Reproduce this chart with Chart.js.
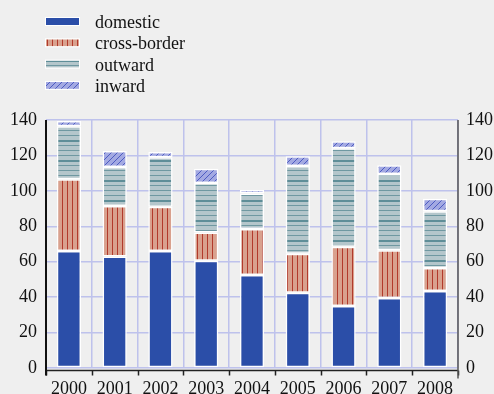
<!DOCTYPE html>
<html>
<head>
<meta charset="utf-8">
<script src="https://cdn.jsdelivr.net/npm/chart.js@4.4.0/dist/chart.umd.min.js"></script>
<style>
  html, body { margin: 0; padding: 0; background: #efefef; }
  canvas { display: block; }
</style>
</head>
<body>
<canvas id="chart" width="494" height="394"></canvas>
<script>
// data
const years = ["2000", "2001", "2002", "2003", "2004", "2005", "2006", "2007", "2008"];
const domestic = [66, 63, 66, 60.5, 52.5, 42.5, 35, 39.5, 43.5];
const crossBorder = [40.5, 28.5, 25, 16, 26, 22, 33.5, 27, 13];
const outward = [30, 22, 28, 28, 20, 49.5, 55.5, 43, 32];
const inward = [3, 9, 3, 8, 2, 5.5, 4, 5, 7];
const seriesNames = ["domestic", "cross-border", "outward", "inward"];
const yMax = 140;
const yStep = 20;

const serif = "'Liberation Serif', 'Times New Roman', serif";
const gridColor = "#bec2ec";
const ctx = document.getElementById("chart").getContext("2d");

// small tiles for the hatched fills
function makePattern(w, h, bg, draw) {
  const c = document.createElement("canvas");
  c.width = w;
  c.height = h;
  const g = c.getContext("2d");
  g.fillStyle = bg;
  g.fillRect(0, 0, w, h);
  draw(g);
  return ctx.createPattern(c, "repeat");
}

const domesticFill = "#2b4ea8";
const crossFill = makePattern(5, 4, "#d9a18e", (g) => {
  g.fillStyle = "#b23a2b";
  g.fillRect(2, 0, 1, 4);
});
const outwardFill = makePattern(4, 20, "#b4c6cb", (g) => {
  g.fillStyle = "#5f8e98";
  g.fillRect(0, 0, 4, 2);
  g.fillStyle = "#6f98a1";
  g.fillRect(0, 5, 4, 1);
  g.fillRect(0, 10, 4, 1);
  g.fillRect(0, 15, 4, 1);
});
const inwardFill = makePattern(6, 6, "#a3a9e2", (g) => {
  g.strokeStyle = "#4d5cc2";
  g.lineWidth = 1;
  g.beginPath();
  g.moveTo(-1, 7); g.lineTo(7, -1);
  g.moveTo(-1, 1); g.lineTo(1, -1);
  g.moveTo(5, 7); g.lineTo(7, 5);
  g.stroke();
});

// axis lines, ticks and the legend are drawn by hand
const frameAndLegend = {
  id: "frameAndLegend",
  afterDraw(chart) {
    const { ctx, chartArea: { left, right, top, bottom } } = chart;
    const xs = chart.scales.x;
    const step = xs.getPixelForValue(1) - xs.getPixelForValue(0);
    const yb = bottom + 2.5;
    ctx.save();

    // bottom axis with ticks at category edges
    ctx.strokeStyle = "#222";
    ctx.lineWidth = 1.5;
    ctx.beginPath();
    ctx.moveTo(left, yb);
    ctx.lineTo(right, yb);
    for (let i = 0; i <= years.length; i++) {
      const x = Math.round(xs.getPixelForValue(i) - step / 2) + 0.5;
      ctx.moveTo(x, yb);
      ctx.lineTo(x, yb + 5);
    }
    ctx.stroke();

    // left axis
    ctx.strokeStyle = "#111";
    ctx.lineWidth = 2;
    ctx.beginPath();
    ctx.moveTo(left, top);
    ctx.lineTo(left, yb + 5);
    ctx.stroke();

    // right axis
    ctx.strokeStyle = "#555";
    ctx.lineWidth = 1.5;
    ctx.beginPath();
    ctx.moveTo(right, top);
    ctx.lineTo(right, yb + 8);
    ctx.stroke();

    // legend
    ctx.font = "18px " + serif;
    ctx.fillStyle = "#111";
    ctx.textAlign = "left";
    ctx.textBaseline = "alphabetic";
    chart.data.datasets.forEach((ds, i) => {
      const cy = 21 + i * 21.3;
      ctx.fillStyle = ds.backgroundColor;
      ctx.fillRect(46, cy - 3, 33, 7);
      ctx.strokeStyle = "#fff";
      ctx.lineWidth = 1;
      ctx.strokeRect(45.5, cy - 3.5, 34, 8);
      ctx.fillStyle = "#111";
      ctx.fillText(ds.label, 95, cy + 7);
    });
    ctx.restore();
  },
};

const fills = [domesticFill, crossFill, outwardFill, inwardFill];
const values = [domestic, crossBorder, outward, inward];

new Chart(ctx, {
  type: "bar",
  data: {
    labels: years,
    datasets: seriesNames.map((name, i) => ({
      label: name,
      data: values[i],
      backgroundColor: fills[i],
      borderColor: "#ffffff",
      borderWidth: 1.5,
      borderSkipped: false,
      categoryPercentage: 1,
      barPercentage: 0.53,
      yAxisID: "y",
    })),
  },
  options: {
    responsive: false,
    animation: false,
    devicePixelRatio: 1,
    layout: { padding: { top: 120, left: 0, right: 0, bottom: 0 } },
    plugins: {
      legend: { display: false },
      tooltip: { enabled: false },
    },
    scales: {
      x: {
        stacked: true,
        grid: { offset: true, color: gridColor, lineWidth: 1.5, drawTicks: false },
        border: { display: false },
        ticks: { color: "#111", font: { family: serif, size: 18 }, padding: 10, maxRotation: 0 },
        afterFit(s) { s.height = 26; },
      },
      y: {
        stacked: true,
        min: 0,
        max: yMax,
        grid: { color: gridColor, lineWidth: 1.5, drawTicks: false },
        border: { display: false },
        ticks: { stepSize: yStep, color: "#111", font: { family: serif, size: 18 }, padding: 9 },
        afterFit(s) { s.width = 46; },
      },
      y2: {
        position: "right",
        min: 0,
        max: yMax,
        grid: { display: false, drawTicks: false },
        border: { display: false },
        ticks: { stepSize: yStep, color: "#111", font: { family: serif, size: 18 }, padding: 8 },
        afterFit(s) { s.width = 36; },
      },
    },
  },
  plugins: [frameAndLegend],
});
</script>
</body>
</html>
